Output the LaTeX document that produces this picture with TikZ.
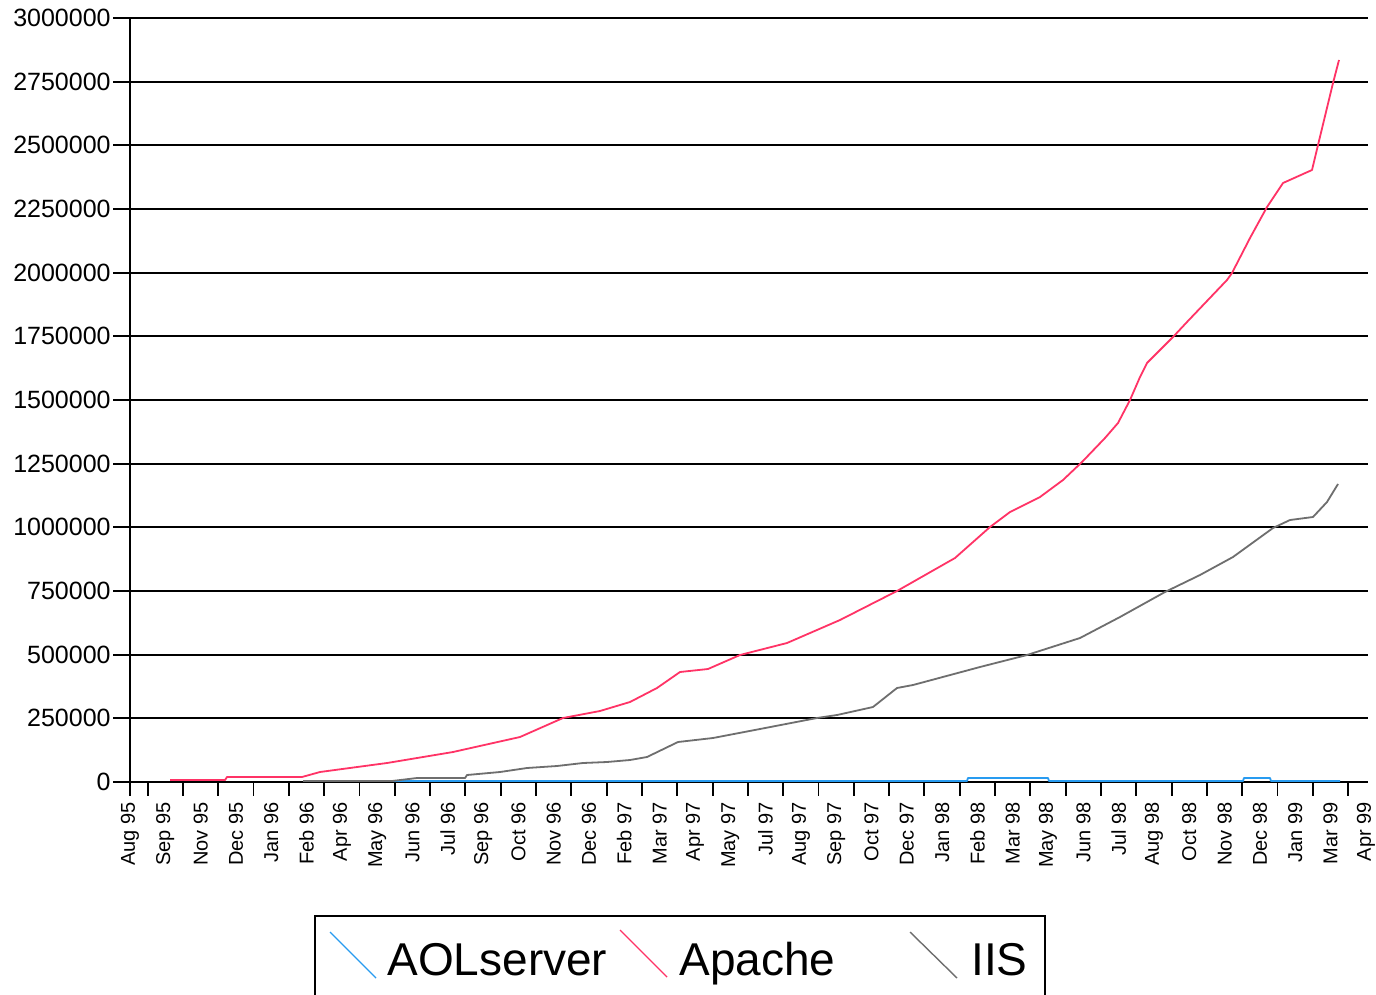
\documentclass[tikz,border=0pt]{standalone}
\usepackage{fontspec}
\setmainfont{Liberation Sans}
\definecolor{apachecol}{RGB}{255,51,102}
\definecolor{iiscol}{RGB}{110,110,110}
\definecolor{aolcol}{RGB}{40,155,240}
\begin{document}
\begin{tikzpicture}[x=0.5pt,y=-0.5pt,
  gridline/.style={black,line width=0.95pt},
  axisline/.style={black,line width=0.95pt},
  tickline/.style={black,line width=0.95pt},
  ylab/.style={anchor=east,inner sep=0pt,font=\fontsize{12.5}{12.5}\selectfont},
  xlab/.style={anchor=east,rotate=90,inner sep=0pt,font=\fontsize{10}{10}\selectfont},
  legtext/.style={anchor=base west,inner sep=0pt,font=\fontsize{23}{23}\selectfont},
  series/.style={line width=0.9pt,line join=round},
  sample/.style={line width=0.7pt}]
\useasboundingbox (0,0) rectangle (1376,995);
\clip (0,0) rectangle (1376,995);
\fill[white] (0,0) rectangle (1376,995);
% horizontal grid lines and y labels
\foreach \i/\lab in {0/0,1/250000,2/500000,3/750000,4/1000000,5/1250000,6/1500000,7/1750000,8/2000000,9/2250000,10/2500000,11/2750000,12/3000000}{
  \draw[gridline] (113,{782-63.667*\i}) -- (1368,{782-63.667*\i});
  \node[ylab] (yl\i) at (111,{782-63.667*\i}) {\lab};
}
% y axis
\draw[axisline] (130,18) -- (130,796);
% x ticks
\foreach \k in {0,...,34}{
  \draw[tickline] ({147.6+35.31*\k},782) -- ({147.6+35.31*\k},796);
}
% x labels
\foreach \i/\lab in {0/Aug 95,1/Sep 95,2/Nov 95,3/Dec 95,4/Jan 96,5/Feb 96,6/Apr 96,7/May 96,8/Jun 96,9/Jul 96,10/Sep 96,11/Oct 96,12/Nov 96,13/Dec 96,14/Feb 97,15/Mar 97,16/Apr 97,17/May 97,18/Jul 97,19/Aug 97,20/Sep 97,21/Oct 97,22/Dec 97,23/Jan 98,24/Feb 98,25/Mar 98,26/May 98,27/Jun 98,28/Jul 98,29/Aug 98,30/Oct 98,31/Nov 98,32/Dec 98,33/Jan 99,34/Mar 99,35/Apr 99}{
  \node[xlab] (xl\i) at ({130+35.31*\i},802) {\lab};
}
% AOLserver
\draw[series,aolcol] plot coordinates {(310,781) (967,781) (968,778) (1048,778) (1049,781) (1243,781) (1244,778) (1270,778) (1271,781) (1340,781)};
% IIS
\draw[series,iiscol] plot coordinates {(303,781) (392,781) (417,778) (465,778) (467,775) (500,772) (527,768) (557,766) (583,763) (607,762) (630,760) (647,757) (678,742) (713,738) (760,729) (817,718) (837,715) (873,707) (897,688) (913,685) (980,667) (1027,655) (1080,638) (1120,617) (1165,592) (1200,575) (1233,557) (1273,528) (1290,520) (1313,517) (1327,502) (1338,484)};
% Apache
\draw[series,apachecol] plot coordinates {(170,780) (225,780) (227,777) (302,777) (320,772) (387,763) (453,752) (520,737) (563,718) (600,711) (630,702) (657,688) (680,672) (708,669) (740,655) (787,643) (840,620) (897,591) (955,558) (990,527) (1010,512) (1040,497) (1063,480) (1082,462) (1105,438) (1118,423) (1130,400) (1140,377) (1147,363) (1173,337) (1187,322) (1227,280) (1232,273) (1250,238) (1267,207) (1283,183) (1312,170) (1318,145) (1333,83) (1339,60)};
% legend
\draw[black,line width=1pt] (315,916) rectangle (1045,1010);
\coordinate (la1) at (330,932); \coordinate (la2) at (376,978);
\coordinate (lb1) at (620,930); \coordinate (lb2) at (667,977);
\coordinate (lc1) at (910,932); \coordinate (lc2) at (957,978);
\draw[sample,aolcol] (la1) -- (la2);
\draw[sample,apachecol] (lb1) -- (lb2);
\draw[sample,iiscol] (lc1) -- (lc2);
\node[legtext] (lta) at (387,975) {AOLserver};
\node[legtext] (ltb) at (679,975) {Apache};
\node[legtext] (ltc) at (971,975) {IIS};
\end{tikzpicture}
\end{document}
